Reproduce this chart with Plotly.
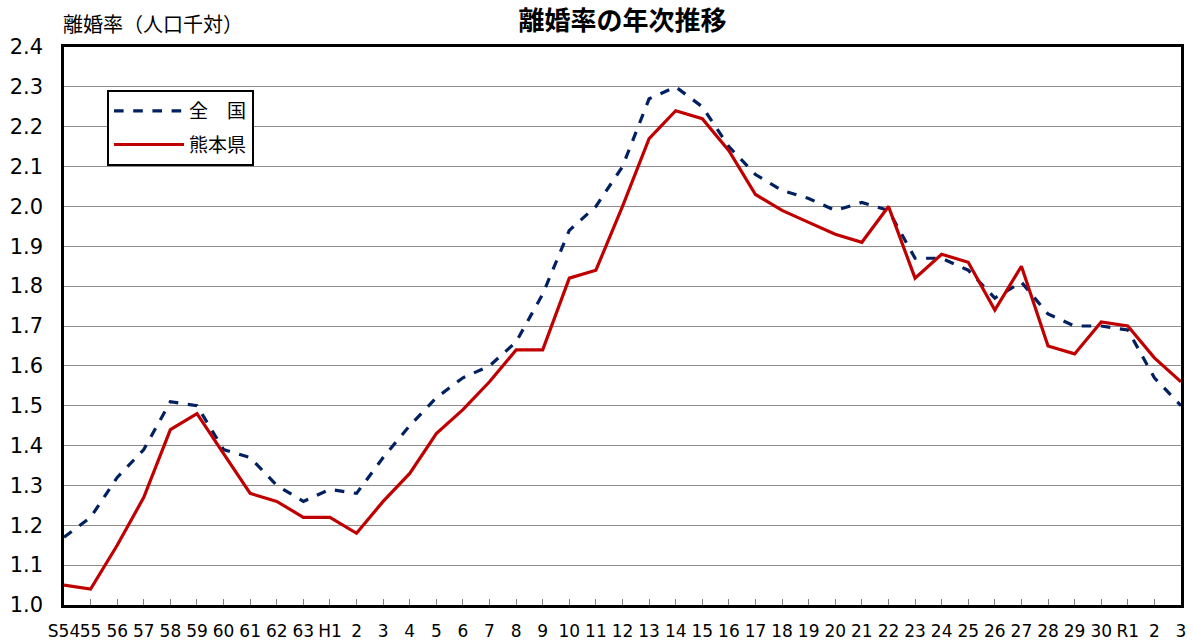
import plotly.graph_objects as go

years = ["S54", "55", "56", "57", "58", "59", "60", "61", "62", "63",
         "H1", "2", "3", "4", "5", "6", "7", "8", "9", "10",
         "11", "12", "13", "14", "15", "16", "17", "18", "19", "20",
         "21", "22", "23", "24", "25", "26", "27", "28", "29", "30",
         "R1", "2 ", "3 "]
# R2/R3 carry a trailing space so the categories stay unique; labels are stripped
zenkoku = [1.17, 1.22, 1.32, 1.39, 1.51, 1.50, 1.39, 1.37, 1.30, 1.26,
           1.29, 1.28, 1.37, 1.45, 1.52, 1.57, 1.60, 1.66, 1.78, 1.94,
           2.00, 2.10, 2.27, 2.30, 2.25, 2.15, 2.08, 2.04, 2.02, 1.99,
           2.01, 1.99, 1.87, 1.87, 1.84, 1.77, 1.81, 1.73, 1.70, 1.70,
           1.69, 1.57, 1.50]
kumamoto = [1.05, 1.04, 1.15, 1.27, 1.44, 1.48, 1.38, 1.28, 1.26, 1.22,
            1.22, 1.18, 1.26, 1.33, 1.43, 1.49, 1.56, 1.64, 1.64, 1.82,
            1.84, 2.00, 2.17, 2.24, 2.22, 2.14, 2.03, 1.99, 1.96, 1.93,
            1.91, 2.00, 1.82, 1.88, 1.86, 1.74, 1.85, 1.65, 1.63, 1.71,
            1.70, 1.62, 1.56]
y_ticks = [1.0, 1.1, 1.2, 1.3, 1.4, 1.5, 1.6, 1.7, 1.8, 1.9, 2.0, 2.1, 2.2, 2.3, 2.4]

FONT = "Noto Sans CJK JP"
TICKFONT = "DejaVu Sans"

fig = go.Figure()
fig.add_trace(go.Scatter(x=years, y=zenkoku, mode="lines", name="全　国",
                         legendgroup="a",
                         line=dict(color="#002060", width=3.2, dash="dash")))
fig.add_trace(go.Scatter(x=years, y=kumamoto, mode="lines", name="熊本県",
                         legendgroup="b",
                         line=dict(color="#C00000", width=3.2)))

fig.update_layout(
    width=1193, height=644,
    margin=dict(l=64, r=12, t=47, b=39, autoexpand=False),
    paper_bgcolor="white", plot_bgcolor="white",
    title=dict(text="<b>離婚率の年次推移</b>", x=0.5, xref="paper", xanchor="center",
               y=0.982, yref="container", yanchor="top",
               font=dict(family=FONT, size=26, color="black")),
    showlegend=True,
    legend=dict(x=0.0385, y=0.923, xanchor="left", yanchor="top",
                bordercolor="black", borderwidth=2, bgcolor="white",
                font=dict(family=FONT, size=19, color="black"),
                itemwidth=70, traceorder="grouped", tracegroupgap=6),
    xaxis=dict(type="category", range=[0, len(years) - 1],
               tickmode="array", tickvals=years,
               ticktext=[y.strip() for y in years],
               tickangle=0, ticks="inside", ticklen=6, tickcolor="#808080",
               ticklabelstandoff=9, automargin=False,
               showline=True, linecolor="black", linewidth=2.5, mirror=True,
               showgrid=False, zeroline=False,
               tickfont=dict(family=TICKFONT, size=17, color="black")),
    yaxis=dict(range=[1.0, 2.4], tickvals=y_ticks,
               ticktext=[f"{v:.1f}" for v in y_ticks],
               showline=True, linecolor="black", linewidth=2.5, mirror=True,
               showgrid=True, gridcolor="#8c8c8c", gridwidth=1, zeroline=False,
               ticks="", ticklabelstandoff=14, automargin=False,
               tickfont=dict(family=TICKFONT, size=21, color="black")),
    annotations=[dict(text="離婚率（人口千対）", xref="paper", yref="paper",
                      x=-0.003, y=1.012, xanchor="left", yanchor="bottom",
                      showarrow=False, font=dict(family=FONT, size=20, color="black"))],
)

fig.write_html("out.html", config={"displayModeBar": False})

with open("out.html", "r", encoding="utf-8") as f:
    html = f.read()
html = html.replace("<body>", '<body style="margin:0">', 1)
with open("out.html", "w", encoding="utf-8") as f:
    f.write(html)
